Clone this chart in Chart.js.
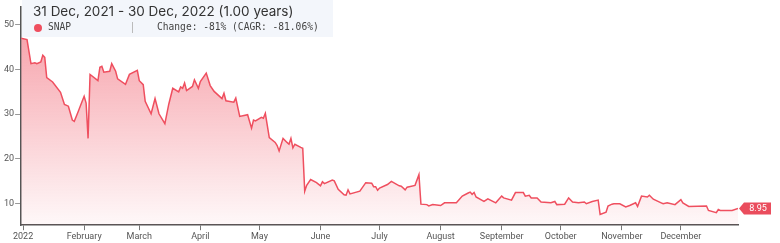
<!DOCTYPE html>
<html>
<head>
<meta charset="utf-8">
<script src="https://cdn.jsdelivr.net/npm/chart.js@4.4.0/dist/chart.umd.min.js"></script>
<style>
  html, body { margin: 0; padding: 0; background: #fff; }
  #wrap { position: relative; width: 780px; height: 243px; }
  #header {
    position: absolute; left: 22px; top: 0; width: 311px; height: 37px;
    background: rgba(242, 246, 251, 0.95);
    font-family: "Inter", "Open Sans", sans-serif; color: #333;
  }
  #title { position: absolute; left: 11px; top: 3px; font-size: 13.5px; white-space: nowrap; }
  #dot { position: absolute; left: 12px; top: 24px; width: 8px; height: 8px; border-radius: 50%; background: #ef4f5f; }
  #sym, #chg { position: absolute; top: 21px; font-family: "DejaVu Sans Mono", monospace; font-size: 9.6px; color: #444; white-space: nowrap; }
  #sym { left: 26px; }
  #sep { position: absolute; left: 110px; top: 22px; width: 1px; height: 11px; background: #bbb; }
  #chg { left: 135px; }
</style>
</head>
<body>
<div id="wrap">
  <canvas id="myChart" width="780" height="243"></canvas>
  <div id="header">
    <div id="title">31 Dec, 2021 - 30 Dec, 2022 (1.00 years)</div>
    <div id="dot"></div>
    <div id="sym">SNAP</div>
    <div id="sep"></div>
    <div id="chg">Change: -81% (CAGR: -81.06%)</div>
  </div>
</div>
<script>
// SNAP closing prices
const dates = [
  '2021-12-31','2022-01-03','2022-01-05','2022-01-07','2022-01-08','2022-01-10','2022-01-11','2022-01-12','2022-01-13','2022-01-16',
  '2022-01-20','2022-01-22','2022-01-24','2022-01-26','2022-01-27','2022-01-29','2022-01-31','2022-02-01','2022-02-02','2022-02-03',
  '2022-02-04','2022-02-08','2022-02-09','2022-02-10','2022-02-11','2022-02-14','2022-02-15','2022-02-17','2022-02-18','2022-02-22',
  '2022-02-24','2022-02-28','2022-03-01','2022-03-03','2022-03-04','2022-03-07','2022-03-09','2022-03-11','2022-03-14','2022-03-16',
  '2022-03-18','2022-03-21','2022-03-22','2022-03-23','2022-03-24','2022-03-25','2022-03-28','2022-03-29','2022-03-31','2022-04-01',
  '2022-04-04','2022-04-06','2022-04-08','2022-04-12','2022-04-13','2022-04-14','2022-04-18','2022-04-19','2022-04-21','2022-04-25',
  '2022-04-27','2022-04-28','2022-04-29','2022-05-02','2022-05-03','2022-05-04','2022-05-06','2022-05-09','2022-05-10','2022-05-11',
  '2022-05-13','2022-05-15','2022-05-16','2022-05-17','2022-05-18','2022-05-19','2022-05-22','2022-05-23','2022-05-24','2022-05-25',
  '2022-05-27','2022-05-30','2022-06-01','2022-06-02','2022-06-03','2022-06-07','2022-06-08','2022-06-10','2022-06-13','2022-06-14',
  '2022-06-15','2022-06-16','2022-06-21','2022-06-24','2022-06-27','2022-06-28','2022-06-29','2022-06-30','2022-07-01','2022-07-05',
  '2022-07-07','2022-07-11','2022-07-12','2022-07-14','2022-07-15','2022-07-19','2022-07-21','2022-07-22','2022-07-25','2022-07-26',
  '2022-07-28','2022-08-01','2022-08-03','2022-08-05','2022-08-09','2022-08-12','2022-08-15','2022-08-16','2022-08-17','2022-08-18',
  '2022-08-19','2022-08-23','2022-08-25','2022-08-29','2022-09-01','2022-09-02','2022-09-06','2022-09-08','2022-09-12','2022-09-13',
  '2022-09-15','2022-09-16','2022-09-19','2022-09-21','2022-09-26','2022-09-28','2022-09-29','2022-10-03','2022-10-05','2022-10-07',
  '2022-10-10','2022-10-13','2022-10-14','2022-10-17','2022-10-20','2022-10-21','2022-10-24','2022-10-25','2022-10-27','2022-10-28',
  '2022-10-31','2022-11-03','2022-11-05','2022-11-08','2022-11-09','2022-11-11','2022-11-14','2022-11-15','2022-11-17','2022-11-21',
  '2022-11-22','2022-11-24','2022-11-28','2022-12-01','2022-12-02','2022-12-05','2022-12-14','2022-12-15','2022-12-19','2022-12-20',
  '2022-12-21','2022-12-27','2022-12-30'
];
const prices = [
  47.0, 46.7, 41.3, 41.5, 41.3, 41.7, 43.2, 42.7, 38.2, 37.2,
  34.9, 32.2, 31.8, 28.7, 28.4, 30.6, 32.9, 34.0, 32.5, 24.6,
  38.9, 37.5, 40.5, 40.7, 39.4, 39.6, 41.3, 39.6, 37.9, 36.7,
  38.9, 39.8, 37.5, 36.6, 32.9, 30.1, 33.5, 30.1, 27.9, 32.3,
  35.8, 35.0, 36.1, 35.8, 37.0, 35.3, 36.2, 37.7, 35.8, 37.3,
  39.2, 36.4, 35.1, 33.5, 34.7, 33.0, 32.7, 33.6, 29.5, 29.9,
  26.9, 28.7, 28.5, 29.3, 29.1, 30.2, 24.8, 23.7, 23.0, 21.8,
  24.6, 23.7, 23.3, 24.6, 22.5, 23.3, 22.6, 22.4, 12.8, 14.1,
  15.4, 14.7, 14.0, 14.9, 14.5, 15.3, 15.1, 13.2, 12.0, 11.9,
  13.1, 12.2, 12.8, 14.7, 14.6, 13.8, 13.8, 13.0, 13.5, 14.3,
  15.0, 14.0, 13.9, 13.1, 13.7, 14.1, 16.5, 9.9, 9.8, 9.5,
  9.8, 9.6, 10.2, 10.2, 10.2, 11.7, 12.4, 12.6, 12.1, 12.5,
  11.5, 10.5, 11.1, 10.2, 11.7, 11.3, 10.8, 12.5, 12.5, 11.7,
  11.9, 11.3, 11.3, 10.4, 10.2, 10.5, 9.8, 9.9, 11.3, 10.4,
  10.2, 10.4, 10.0, 10.5, 10.8, 7.6, 8.1, 9.5, 9.9, 10.0,
  10.0, 9.3, 9.6, 10.2, 9.4, 11.7, 11.5, 11.9, 11.0, 10.2,
  10.0, 10.2, 9.8, 10.9, 10.2, 9.4, 9.5, 8.5, 8.0, 8.7,
  8.5, 8.5, 8.95
];
const monthTicks = ['2022-01-01','2022-02-01','2022-03-01','2022-04-01','2022-05-01','2022-06-01',
  '2022-07-01','2022-08-01','2022-09-01','2022-10-01','2022-11-01','2022-12-01'];
const monthLabels = ['2022','February','March','April','May','June','July','August','September','October','November','December'];
const yTicks = [10, 20, 30, 40, 50];

const lineColor = '#ef4f5f';

function dayOf(s) {
  const p = s.split('-').map(Number);
  return (Date.UTC(p[0], p[1] - 1, p[2]) - Date.UTC(2022, 0, 1)) / 86400000;
}

const points = dates.map((d, i) => ({ x: dayOf(d), y: prices[i] }));
const tickDays = monthTicks.map(dayOf);

// price tag at the last point
const lastTag = {
  id: 'lastTag',
  afterDatasetsDraw(chart) {
    const c = chart.ctx;
    const last = points[points.length - 1];
    const x = chart.scales.x.getPixelForValue(last.x) + 1;
    const y = chart.scales.y.getPixelForValue(last.y);
    c.save();
    c.fillStyle = '#ea4d5d';
    c.beginPath();
    c.moveTo(x, y);
    c.lineTo(x + 5, y - 6);
    c.lineTo(x + 32, y - 6);
    c.lineTo(x + 32, y + 6);
    c.lineTo(x + 5, y + 6);
    c.closePath();
    c.fill();
    c.fillStyle = '#fff';
    c.font = '9px "Liberation Sans Narrow", "Roboto", sans-serif';
    c.textAlign = 'center';
    c.textBaseline = 'middle';
    c.fillText(String(last.y), x + 19, y + 0.5);
    c.restore();
  }
};

const ctx = document.getElementById('myChart').getContext('2d');
new Chart(ctx, {
  type: 'line',
  data: {
    datasets: [{
      label: 'SNAP',
      data: points,
      borderColor: lineColor,
      borderWidth: 1.5,
      pointRadius: 0,
      tension: 0,
      fill: 'start',
      backgroundColor: (context) => {
        const area = context.chart.chartArea;
        if (!area) return 'rgba(239,79,95,0.3)';
        const g = context.chart.ctx.createLinearGradient(0, area.top, 0, area.bottom);
        g.addColorStop(0, 'rgba(239,79,95,0.58)');
        g.addColorStop(1, 'rgba(239,79,95,0.04)');
        return g;
      }
    }]
  },
  options: {
    responsive: false,
    animation: false,
    layout: { padding: { left: 3, right: 42, top: 0, bottom: 0 } },
    plugins: { legend: { display: false }, tooltip: { enabled: false } },
    scales: {
      x: {
        type: 'linear',
        min: -1,
        max: 363,
        afterBuildTicks: (axis) => { axis.ticks = tickDays.map(v => ({ value: v })); },
        ticks: {
          autoSkip: false,
          maxRotation: 0,
          padding: 1,
          color: '#555',
          font: { family: '"Liberation Sans Narrow", "Roboto", sans-serif', size: 9 },
          callback: (v) => monthLabels[tickDays.indexOf(v)]
        },
        grid: { drawOnChartArea: false, drawTicks: true, tickLength: 5, color: '#777' },
        border: { color: '#555', width: 1.5 }
      },
      y: {
        min: 5.2,
        max: 54.1,
        afterBuildTicks: (axis) => { axis.ticks = yTicks.map(v => ({ value: v })); },
        ticks: {
          padding: 1,
          color: '#555',
          font: { family: '"Liberation Sans Narrow", "Roboto", sans-serif', size: 9 }
        },
        grid: { drawOnChartArea: false, drawTicks: true, tickLength: 6, color: '#999' },
        border: { color: '#555', width: 1.5 }
      }
    }
  },
  plugins: [lastTag]
});
</script>
</body>
</html>
